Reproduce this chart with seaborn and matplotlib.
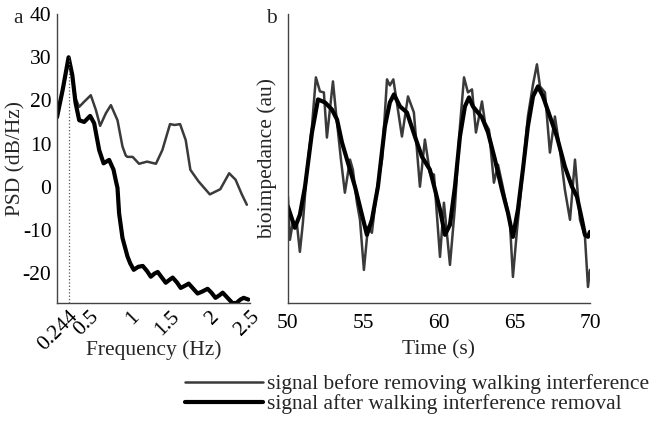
import matplotlib
matplotlib.use("Agg")
import matplotlib.pyplot as plt
import seaborn as sns
import pandas as pd

# panel a: power spectral density (Hz, dB/Hz)
psd_freq_before = [0.10, 0.17, 0.244, 0.29, 0.33, 0.376, 0.438, 0.52, 0.583, 0.636, 0.707,
                   0.77, 0.852, 0.914, 0.955, 0.976, 1.04, 1.12, 1.22, 1.33, 1.41, 1.505,
                   1.563, 1.63, 1.70, 1.758, 1.86, 2.00, 2.13, 2.24, 2.32, 2.40, 2.46]
psd_before = [16.1, 22.4, 30.0, 25.9, 20.5, 18.5, 19.7, 21.2, 17.8, 14.1, 17.0,
              18.9, 15.4, 9.3, 7.2, 6.9, 6.9, 5.3, 5.8, 5.3, 8.5, 14.5,
              14.3, 14.5, 10.8, 3.9, 1.2, -1.8, -0.6, 3.1, 1.6, -1.9, -4.2]

psd_freq_after = [0.10, 0.17, 0.244, 0.29, 0.33, 0.376, 0.438, 0.512, 0.562, 0.624, 0.679,
                  0.748, 0.803, 0.83, 0.852, 0.872, 0.914, 0.976, 1.01, 1.054, 1.11, 1.166,
                  1.22, 1.266, 1.31, 1.352, 1.40, 1.452, 1.50, 1.538, 1.59, 1.638, 1.69,
                  1.737, 1.79, 1.848, 1.91, 1.972, 2.02, 2.07, 2.12, 2.16, 2.22, 2.28,
                  2.33, 2.38, 2.42, 2.48]
psd_after = [16.1, 22.4, 30.0, 25.9, 19.5, 15.4, 15.0, 16.4, 14.7, 8.5, 5.4,
             6.2, 3.9, 1.5, -0.3, -6.2, -11.9, -16.2, -17.8, -19.3, -18.6, -18.4,
             -19.6, -20.9, -20.2, -19.8, -21.0, -22.3, -21.6, -21.1, -22.2, -23.5, -23.0,
             -22.5, -23.6, -24.8, -24.3, -23.7, -24.6, -25.8, -25.2, -24.6, -25.8, -27.0,
             -27.0, -26.2, -25.8, -26.2]

# panel b: bioimpedance time series (s, au)
t_before = [50.00, 50.13, 50.33, 50.60, 50.79, 50.99, 51.26, 51.59, 51.85, 52.12, 52.38,
            52.58, 52.98, 53.18, 53.51, 53.77, 54.11, 54.30, 54.57, 54.77, 55.03, 55.30,
            55.56, 55.89, 56.23, 56.56, 56.75, 56.98, 57.55, 57.95, 58.34, 58.74, 59.07,
            59.40, 59.67, 60.07, 60.33, 60.73, 61.06, 61.39, 61.66, 61.92, 62.19, 62.45,
            62.85, 63.05, 63.31, 63.64, 63.91, 64.17, 64.50, 64.70, 64.90, 65.17, 65.50,
            65.89, 66.23, 66.49, 66.69, 67.02, 67.35, 67.68, 68.01, 68.34, 68.68, 69.01,
            69.34, 69.67, 69.87, 70.00]
bio_before = [106, 63, 81, 78, 51, 80, 133, 176, 225, 211, 210,
              165, 221, 190, 143, 110, 143, 133, 100, 83, 33, 76,
              70, 113, 143, 223, 217, 223, 166, 206, 190, 116, 163,
              130, 128, 46, 100, 38, 96, 176, 225, 210, 213, 170,
              201, 180, 173, 120, 138, 120, 96, 80, 26, 73, 123,
              186, 218, 238, 216, 210, 150, 186, 153, 113, 83, 143,
              83, 66, 16, 33]

t_after = [50.00, 50.46, 50.79, 51.13, 51.59, 51.99, 52.45, 52.91, 53.25, 53.58, 54.44,
           54.90, 55.23, 55.56, 55.96, 56.42, 56.75, 57.02, 57.42, 57.88, 58.41, 58.87,
           59.40, 59.74, 60.07, 60.40, 60.73, 61.06, 61.39, 61.72, 61.99, 62.25, 62.85,
           63.25, 63.71, 64.17, 64.57, 64.90, 65.23, 65.56, 65.89, 66.23, 66.56, 66.89,
           67.35, 67.81, 68.34, 68.81, 69.14, 69.47, 69.67, 69.87, 70.00]
bio_after = [96, 75, 88, 116, 170, 203, 200, 193, 183, 160, 116,
             88, 68, 83, 116, 176, 200, 208, 196, 190, 166, 146,
             133, 113, 93, 68, 78, 116, 166, 196, 205, 196, 185,
             170, 143, 113, 90, 66, 93, 133, 176, 206, 216, 206,
             186, 166, 136, 116, 106, 83, 68, 66, 71]

peak_freq = 0.244
psd_ticks = [0.244, 0.5, 1, 1.5, 2, 2.5]
psd_ticklabels = ["0.244", "0.5", "1", "1.5", "2", "2.5"]
legend_labels = ["signal before removing walking interference",
                 "signal after walking interference removal"]

sns.set_style("white")
plt.rcParams['font.family'] = ['Liberation Serif', 'DejaVu Serif']

gray = "#3a3a3a"
spine_col = "#444444"

fig = plt.figure(figsize=(6.5, 4.26), dpi=100)
ax1 = fig.add_axes([0.0877, 0.2887, 0.297, 0.678])
ax2 = fig.add_axes([0.443, 0.2887, 0.4646, 0.678])

df_a1 = pd.DataFrame({"f": psd_freq_before, "v": psd_before})
df_a2 = pd.DataFrame({"f": psd_freq_after, "v": psd_after})
sns.lineplot(data=df_a1, x="f", y="v", ax=ax1, color=gray, lw=1.8, estimator=None, sort=False)
sns.lineplot(data=df_a2, x="f", y="v", ax=ax1, color="black", lw=3.0, estimator=None, sort=False)
ax1.vlines(peak_freq, -27, 30, colors="#555555", linestyles=":", lw=0.9)

ax1.set_xlim(0.1, 2.5)
ax1.set_ylim(-27, 40)
ax1.set_xticks(psd_ticks)
ax1.set_xticklabels(psd_ticklabels, rotation=45, ha="right", rotation_mode="anchor")
ax1.set_yticks([-20, -10, 0, 10, 20, 30, 40])
ax1.set_yticklabels(["-20", "-10", "0", "10", "20", "30", "40"])
ax1.set_xlabel("Frequency (Hz)", fontsize=15.5)
ax1.set_ylabel("PSD (dB/Hz)", fontsize=15.5)
ax1.xaxis.set_label_coords(0.5, -0.13)
ax1.yaxis.set_label_coords(-0.165, 0.5)

df_b1 = pd.DataFrame({"t": t_before, "v": bio_before})
df_b2 = pd.DataFrame({"t": t_after, "v": bio_after})
sns.lineplot(data=df_b1, x="t", y="v", ax=ax2, color=gray, lw=1.8, estimator=None, sort=False,
             label=legend_labels[0], legend=False)
sns.lineplot(data=df_b2, x="t", y="v", ax=ax2, color="black", lw=3.0, estimator=None, sort=False,
             label=legend_labels[1], legend=False)
ax2.set_xlim(50, 70)
ax2.set_ylim(0, 288)
ax2.set_xticks([50, 55, 60, 65, 70])
ax2.set_yticks([])
ax2.set_xlabel("Time (s)", fontsize=15.5)
ax2.set_ylabel("bioimpedance (au)", fontsize=15.5)
ax2.xaxis.set_label_coords(0.5, -0.13)
ax2.yaxis.set_label_coords(-0.035, 0.5)

for ax in (ax1, ax2):
    sns.despine(ax=ax)
    for s in ("left", "bottom"):
        ax.spines[s].set_color(spine_col)
        ax.spines[s].set_linewidth(1.0)
    ax.tick_params(direction="in", length=4, width=0.8, color=spine_col,
                   labelsize=15.5, pad=4, colors="black")

ax1.tick_params(axis="x", pad=3)
ax2.tick_params(axis="x", pad=8)

fig.text(0.020, 0.945, "a", fontsize=15.5)
fig.text(0.410, 0.945, "b", fontsize=15.5)

h, l = ax2.get_legend_handles_labels()
fig.legend(h, l, loc="upper left", bbox_to_anchor=(0.285, 0.122), frameon=False,
           fontsize=15.5, handlelength=3.6, handletextpad=0.2, borderpad=0,
           borderaxespad=0, labelspacing=0.0)

fig.savefig("out.png", dpi=100)
